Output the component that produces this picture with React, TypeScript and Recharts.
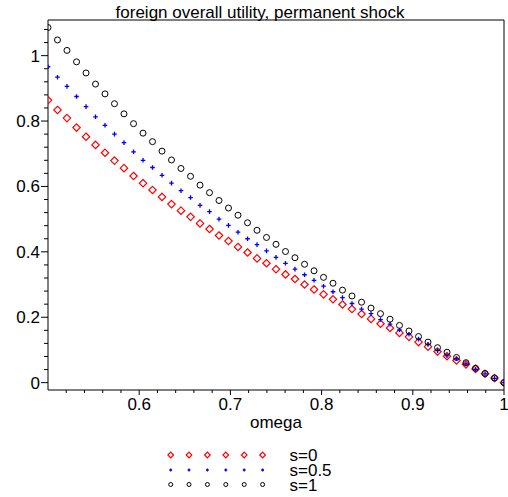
import React from 'react';
import { ScatterChart, Scatter, XAxis, YAxis, Legend, ReferenceLine } from 'recharts';

// omega grid (49 points from 0.5 to 1)
const omega = [
  0.5, 0.5104, 0.5208, 0.5313, 0.5417, 0.5521, 0.5625, 0.5729, 0.5833, 0.5938,
  0.6042, 0.6146, 0.625, 0.6354, 0.6458, 0.6563, 0.6667, 0.6771, 0.6875, 0.6979,
  0.7083, 0.7188, 0.7292, 0.7396, 0.75, 0.7604, 0.7708, 0.7813, 0.7917, 0.8021,
  0.8125, 0.8229, 0.8333, 0.8438, 0.8542, 0.8646, 0.875, 0.8854, 0.8958, 0.9063,
  0.9167, 0.9271, 0.9375, 0.9479, 0.9583, 0.9688, 0.9792, 0.9896, 1.0,
];

const utilS0 = [
  0.864, 0.834, 0.809, 0.78, 0.752, 0.727, 0.703, 0.679, 0.656, 0.632,
  0.61, 0.589, 0.568, 0.546, 0.526, 0.507, 0.487, 0.47, 0.45, 0.433,
  0.415, 0.398, 0.38, 0.365, 0.347, 0.331, 0.317, 0.3, 0.285, 0.27,
  0.255, 0.239, 0.225, 0.21, 0.195, 0.18, 0.167, 0.152, 0.14, 0.124,
  0.11, 0.095, 0.081, 0.068, 0.056, 0.042, 0.027, 0.014, 0.0,
];

const utilS05 = [
  0.966, 0.934, 0.906, 0.875, 0.844, 0.813, 0.787, 0.76, 0.734, 0.706,
  0.68, 0.658, 0.634, 0.61, 0.587, 0.566, 0.542, 0.523, 0.5, 0.481,
  0.46, 0.44, 0.422, 0.403, 0.383, 0.365, 0.347, 0.33, 0.313, 0.295,
  0.278, 0.26, 0.242, 0.225, 0.211, 0.193, 0.179, 0.161, 0.148, 0.133,
  0.117, 0.098, 0.082, 0.073, 0.057, 0.041, 0.027, 0.013, 0.0,
];

const utilS1 = [
  1.086, 1.048, 1.016, 0.981, 0.947, 0.913, 0.883, 0.853, 0.822, 0.792,
  0.763, 0.737, 0.708, 0.681, 0.655, 0.631, 0.604, 0.581, 0.557, 0.534,
  0.512, 0.489, 0.466, 0.444, 0.423, 0.401, 0.382, 0.362, 0.342, 0.322,
  0.304, 0.283, 0.265, 0.246, 0.228, 0.211, 0.194, 0.175, 0.158, 0.141,
  0.124, 0.107, 0.093, 0.077, 0.061, 0.044, 0.028, 0.014, 0.0,
];

const seriesNames = ['s=0', 's=0.5', 's=1'];
const seriesColors = ['#ff0000', '#0000ff', '#000000'];
const seriesMarkers = ['diamond', 'cross', 'circle'];
const seriesValues = [utilS0, utilS05, utilS1];

// ticks (major + minor)
const xTicks = [
  0.52, 0.54, 0.56, 0.58, 0.6, 0.62, 0.64, 0.66, 0.68, 0.7, 0.72, 0.74, 0.76, 0.78,
  0.8, 0.82, 0.84, 0.86, 0.88, 0.9, 0.92, 0.94, 0.96, 0.98, 1.0,
];
const yTicks = [
  0, 0.04, 0.08, 0.12, 0.16, 0.2, 0.24, 0.28, 0.32, 0.36, 0.4, 0.44, 0.48, 0.52,
  0.56, 0.6, 0.64, 0.68, 0.72, 0.76, 0.8, 0.84, 0.88, 0.92, 0.96, 1.0, 1.04, 1.08,
];

const X_DOMAIN = [0.5, 1];
const Y_DOMAIN = [-0.0225, 1.109];

const FONT = '"Liberation Sans", Arial, sans-serif';

const isMajor = (v: number) => Math.abs(v * 10 - Math.round(v * 10)) < 1e-6;
const isMajorY = (v: number) => Math.abs(v * 5 - Math.round(v * 5)) < 1e-6;
const fmt = (v: number) => String(Math.round(v * 10) / 10);

const Marker = ({ kind, cx, cy, color, small }: any) => {
  if (kind === 'diamond') {
    const h = small ? 2.8 : 3.7;
    return (
      <path
        d={`M${cx},${cy - h}L${cx + h},${cy}L${cx},${cy + h}L${cx - h},${cy}Z`}
        fill="none"
        stroke={color}
        strokeWidth={1.2}
      />
    );
  }
  if (kind === 'cross') {
    const h = small ? 1.4 : 2.3;
    return (
      <path
        d={`M${cx - h},${cy}H${cx + h}M${cx},${cy - h}V${cy + h}`}
        stroke={color}
        strokeWidth={1.3}
      />
    );
  }
  return <circle cx={cx} cy={cy} r={small ? 2 : 3} fill="none" stroke={color} strokeWidth={1} />;
};

const XTick = (props: any) => {
  const { x, y, payload } = props;
  const v = payload.value;
  const major = isMajor(v);
  return (
    <g>
      <line x1={x} x2={x} y1={y} y2={y + (major ? 5 : 3)} stroke="#000" />
      {major && (
        <text x={x} y={y + 19.5} textAnchor="middle" fontSize={17} fontFamily={FONT} fill="#000">
          {fmt(v)}
        </text>
      )}
    </g>
  );
};

const YTick = (props: any) => {
  const { x, y, payload } = props;
  const v = payload.value;
  const major = isMajorY(v);
  return (
    <g>
      <line x1={x - (major ? 7 : 4)} x2={x} y1={y} y2={y} stroke="#000" />
      {major && (
        <text x={x - 8} y={y} dy="0.35em" textAnchor="end" fontSize={17} fontFamily={FONT} fill="#000">
          {fmt(v)}
        </text>
      )}
    </g>
  );
};

const renderLegend = () => {
  const rowY = [455, 470, 484.5];
  const markerX = [170.7, 189, 207.4, 225.8, 244.2, 262.6];
  return (
    <svg width={508} height={52} style={{ display: 'block' }}>
      {seriesNames.map((name, i) => (
        <g key={name}>
          {markerX.map((mx, k) => (
            <Marker key={k} kind={seriesMarkers[i]} cx={mx} cy={rowY[i] - 445} color={seriesColors[i]} small />
          ))}
          <text x={289.5} y={rowY[i] - 445 + 6.3} fontSize={17} fontFamily={FONT} fill="#000">
            {name}
          </text>
        </g>
      ))}
    </svg>
  );
};

export default function App() {
  return (
    <div style={{ position: 'absolute', left: 0, top: 0, width: 508, height: 497, background: '#fff' }}>
      <ScatterChart width={508} height={497} margin={{ top: 20, right: 4, bottom: 0, left: 0 }}>
        <text x={260} y={18} textAnchor="middle" fontSize={17} fontFamily={FONT} fill="#000">
          foreign overall utility, permanent shock
        </text>
        <XAxis
          dataKey="omega"
          type="number"
          domain={X_DOMAIN}
          allowDataOverflow
          ticks={xTicks}
          interval={0}
          tick={<XTick />}
          tickLine={false}
          tickSize={0}
          tickMargin={0}
          height={107}
          axisLine={{ stroke: '#000' }}
          label={{ value: 'omega', position: 'insideTop', offset: 26, fontSize: 17, fontFamily: FONT, fill: '#000' }}
        />
        <YAxis
          dataKey="u"
          type="number"
          domain={Y_DOMAIN}
          allowDataOverflow
          ticks={yTicks}
          interval={0}
          tick={<YTick />}
          tickLine={false}
          tickSize={0}
          tickMargin={0}
          width={48}
          axisLine={{ stroke: '#000' }}
        />
        {/* box: top and right frame lines */}
        <ReferenceLine y={Y_DOMAIN[1]} stroke="#000" strokeWidth={1} />
        <ReferenceLine x={X_DOMAIN[1]} stroke="#000" strokeWidth={1} />
        <Legend
          layout="horizontal"
          verticalAlign="middle"
          align="center"
          content={renderLegend}
          wrapperStyle={{ position: 'absolute', left: 0, top: 445, width: 508, height: 52 }}
        />
        {seriesNames.map((name, i) => (
          <Scatter
            key={name}
            name={name}
            data={omega.map((w, k) => ({ omega: w, u: seriesValues[i][k] }))}
            fill={seriesColors[i]}
            isAnimationActive={false}
            shape={(p: any) => <Marker kind={seriesMarkers[i]} cx={p.cx} cy={p.cy} color={seriesColors[i]} />}
          />
        ))}
      </ScatterChart>
    </div>
  );
}
